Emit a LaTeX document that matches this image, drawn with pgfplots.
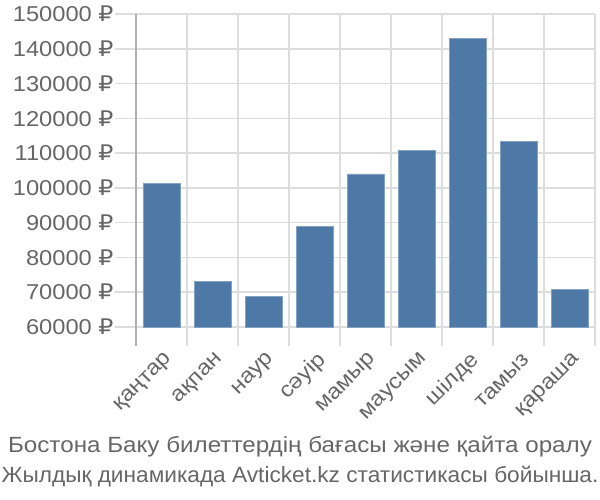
\documentclass[border=0pt]{standalone}
\usepackage{pgfplots}
\pgfplotsset{compat=1.18}
\usepackage{fontspec}
\setmainfont[FakeStretch=1.1]{Liberation Sans}
\newfontfamily\lineb[FakeStretch=1.03]{Liberation Sans}
\newfontfamily\rub[FakeStretch=1.1]{DejaVu Sans}
\newcommand{\R}{{\rub ₽}}
\definecolor{barblue}{RGB}{78,121,167}
\definecolor{gridgray}{RGB}{221,221,221}
\definecolor{axisgray}{RGB}{175,175,175}
\definecolor{textgray}{RGB}{102,102,102}
\begin{document}
\begin{tikzpicture}
\useasboundingbox (-136pt,-173pt) rectangle (464pt,327pt);
\begin{axis}[
  at={(0pt,0pt)}, anchor=south west,
  scale only axis, width=459pt, height=313pt,
  xmin=-0.5, xmax=8.5, ymin=60000, ymax=150000,
  scaled y ticks=false,
  axis line style={draw=none},
  xtick={0,...,8},
  xticklabels={қаңтар,ақпан,наур,сәуір,мамыр,маусым,шілде,тамыз,қараша},
  minor xtick={-0.5,0.5,...,8.5},
  major x tick style={draw=none},
  minor x tick style={gridgray, line width=1.5pt},
  minor tick length=19pt,
  xtick align=outside,
  xminorgrids, minor x grid style={gridgray, line width=1.5pt},
  ytick={60000,70000,...,150000},
  yticklabels={60000 \R,70000 \R,80000 \R,90000 \R,100000 \R,110000 \R,120000 \R,130000 \R,140000 \R,150000 \R},
  ymajorgrids, major y grid style={gridgray, line width=1.5pt},
  y tick style={gridgray, line width=1.5pt},
  major tick length=21pt,
  ytick align=outside,
  tick pos=left,
  ticklabel style={font=\fontsize{21.5}{26}\selectfont, text=textgray},
  yticklabel style={xshift=2pt},
  xticklabel style={rotate=45, anchor=east, yshift=-12pt, xshift=3pt},
  clip=false,
]
\addplot[ybar, bar width=0.72, fill=barblue, draw=barblue!70!white, line width=0.6pt]
  coordinates {(0,101400) (1,73200) (2,68900) (3,89000) (4,104000) (5,110800) (6,143100) (7,113300) (8,70900)};
\draw[axisgray, line width=1.5pt] (axis cs:-0.5,60000) ++(0pt,-19pt) -- (axis cs:-0.5,150000);
\end{axis}
\node[text=textgray, font=\fontsize{22}{26}\selectfont] at (164pt,-119.5pt) {Бостона Баку билеттердің бағасы және қайта оралу};
\node[text=textgray, font=\fontsize{22}{26}\selectfont\lineb] at (164pt,-149.5pt) {Жылдық динамикада Avticket.kz статистикасы бойынша.};
\end{tikzpicture}
\end{document}
